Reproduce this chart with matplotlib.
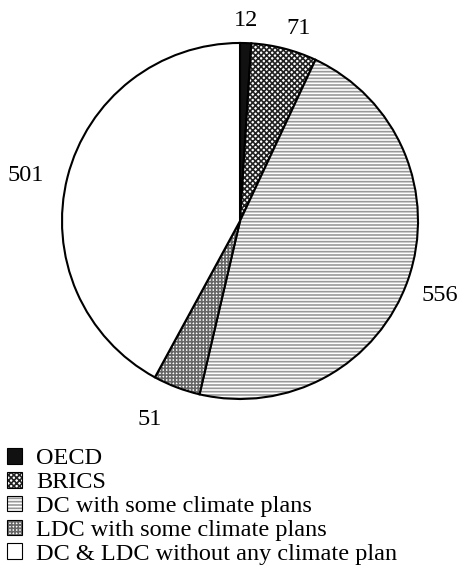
import numpy as np
import matplotlib
matplotlib.use('Agg')
import matplotlib.pyplot as plt
from matplotlib.patches import Patch
from matplotlib.colors import to_rgba

plt.rcParams['font.family'] = ['Liberation Serif', 'DejaVu Serif']
plt.rcParams['hatch.linewidth'] = 1.2

# Data
categories = ['OECD', 'BRICS', 'DC with some climate plans',
              'LDC with some climate plans', 'DC & LDC without any climate plan']
values = [12, 71, 556, 51, 501]
value_labels = ['12', '71', '556', '51', '501']

face = ['#111111', 'white', 'white', 'white', 'white']
hatch = [None, 'xxxxxx', '-----', '+++++', None]
hatch_col = ['#111111', '#222222', '#999999', '#666666', 'black']

fig = plt.figure(figsize=(4.62, 5.84), dpi=100)
ax = fig.add_axes([0.1342, 0.3168, 0.7706, 0.6096])

wedges, _ = ax.pie(values, startangle=90, counterclock=False,
                   colors=face, wedgeprops=dict(edgecolor='black', linewidth=1.5))
for w, h, hc in zip(wedges, hatch, hatch_col):
    if h:
        w.set_hatch(h)
        w._hatch_color = to_rgba(hc)
ax.set_aspect('equal')
ax.set_xlim(-1.0, 1.0)
ax.set_ylim(-1.0, 1.0)

# label placement: (angle offset from wedge middle in degrees, radius)
lab_pos = [(0, 1.125), (-2.6, 1.133), (-1.2, 1.198), (-3.5, 1.227), (2.4, 1.228)]
total = sum(values)
cum = 0
for v, lab, (da, r) in zip(values, value_labels, lab_pos):
    mid = 90 - (cum + v / 2) / total * 360 + da
    cum += v
    ax.text(r * np.cos(np.radians(mid)), r * np.sin(np.radians(mid)), lab,
            ha='center', va='center', fontsize=17.5)

# legend
handles = [Patch(facecolor=f, edgecolor='black', hatch=h, linewidth=0.8)
           for f, h in zip(face, hatch)]
leg = fig.legend(handles, categories, loc='upper left', bbox_to_anchor=(0.015, 0.233),
                 frameon=False, fontsize=17.5, handlelength=0.62, handleheight=0.62,
                 handletextpad=0.58, labelspacing=0.1, borderaxespad=0, borderpad=0)
for p, hc in zip(leg.get_patches(), hatch_col):
    p._hatch_color = to_rgba(hc)

fig.savefig('out.png', dpi=100)
